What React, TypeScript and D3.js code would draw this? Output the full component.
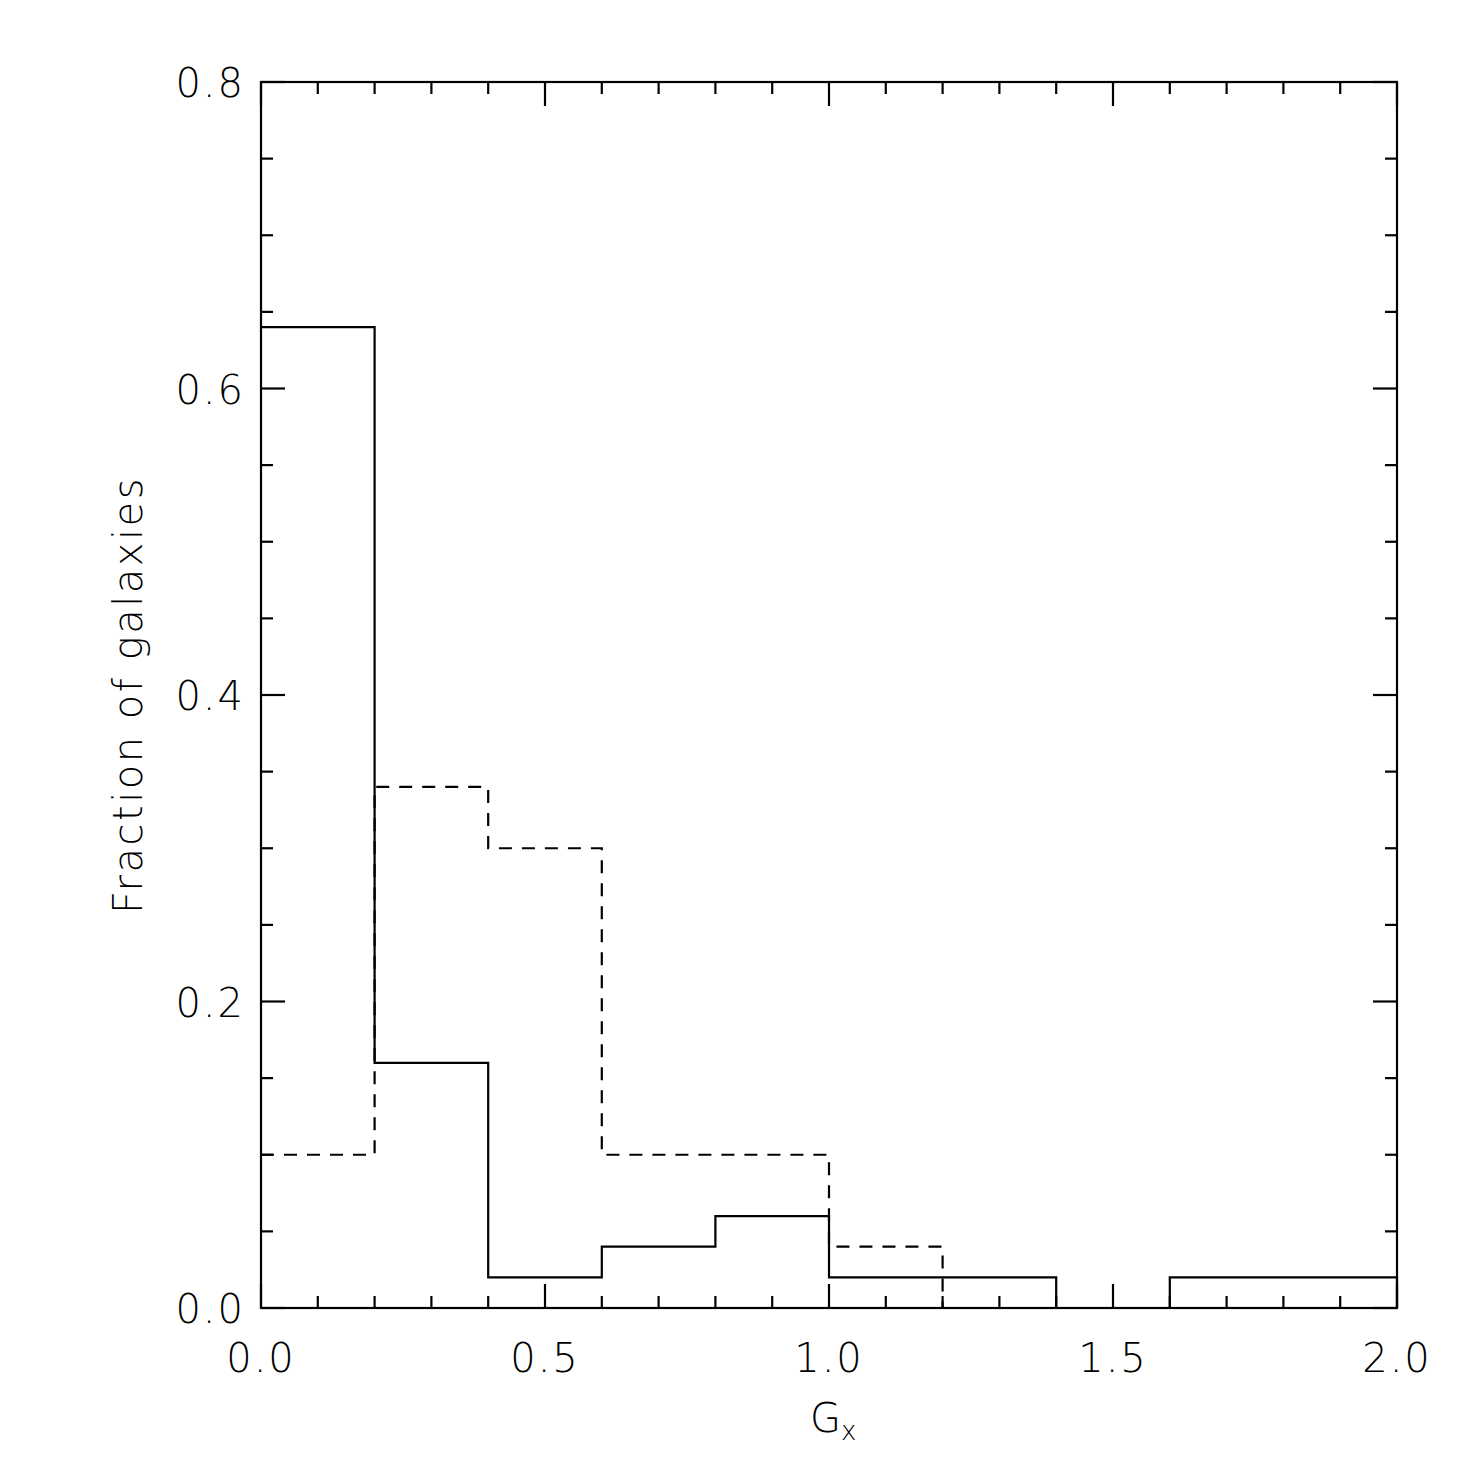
import React, { useEffect, useRef } from 'react';
import * as d3 from 'd3';

// bin edges (G_x) and fractions per bin
const binEdges = [0.0, 0.2, 0.4, 0.6, 0.8, 1.0, 1.2, 1.4, 1.6, 1.8, 2.0];
const solidFractions = [0.64, 0.16, 0.02, 0.04, 0.06, 0.02, 0.02, 0.0, 0.02, 0.02];
const dashedFractions = [0.10, 0.34, 0.30, 0.10, 0.10, 0.04, 0.0, 0.0, 0.0, 0.0];

const xMajorTicks = [0.0, 0.5, 1.0, 1.5, 2.0];
const xMinorTicks = [0.1, 0.2, 0.3, 0.4, 0.6, 0.7, 0.8, 0.9, 1.1, 1.2, 1.3, 1.4, 1.6, 1.7, 1.8, 1.9];
const yMajorTicks = [0.0, 0.2, 0.4, 0.6, 0.8];
const yMinorTicks = [0.05, 0.1, 0.15, 0.25, 0.3, 0.35, 0.45, 0.5, 0.55, 0.65, 0.7, 0.75];

const App: React.FC = () => {
  const svgRef = useRef<SVGSVGElement>(null);

  useEffect(() => {
    if (!svgRef.current) return;
    const W = 1475;
    const H = 1475;
    const left = 261, right = 1397, top = 82, bottom = 1308;
    const font = "'DejaVu Sans', 'Liberation Sans', sans-serif";

    const svg = d3.select(svgRef.current);
    svg.selectAll('*').remove();
    svg.attr('width', W).attr('height', H);

    svg.append('rect').attr('width', W).attr('height', H).attr('fill', '#fff');

    const x = d3.scaleLinear().domain([0, 2]).range([left, right]);
    const y = d3.scaleLinear().domain([0, 0.8]).range([bottom, top]);

    // histograms as step lines
    const stepLine = d3.line<[number, number]>()
      .x(d => x(d[0]))
      .y(d => y(d[1]))
      .curve(d3.curveStepAfter);

    const toPoints = (vals: number[]): [number, number][] => {
      const pts: [number, number][] = vals.map((v, i) => [binEdges[i], v]);
      pts.push([binEdges[binEdges.length - 1], vals[vals.length - 1]]);
      pts.push([binEdges[binEdges.length - 1], 0]);
      return pts;
    };

    svg.append('path')
      .attr('d', stepLine(toPoints(dashedFractions)))
      .attr('fill', 'none')
      .attr('stroke', '#000')
      .attr('stroke-width', 2.2)
      .attr('stroke-dasharray', '13,10');

    svg.append('path')
      .attr('d', stepLine(toPoints(solidFractions)))
      .attr('fill', 'none')
      .attr('stroke', '#000')
      .attr('stroke-width', 2.2);

    // frame
    svg.append('rect')
      .attr('x', left).attr('y', top)
      .attr('width', right - left).attr('height', bottom - top)
      .attr('fill', 'none').attr('stroke', '#000').attr('stroke-width', 2.2);

    const tickG = svg.append('g').attr('stroke', '#000').attr('stroke-width', 2.2);
    const major = 24, minor = 12;

    const xTick = (v: number, len: number) => {
      tickG.append('line').attr('x1', x(v)).attr('x2', x(v)).attr('y1', bottom).attr('y2', bottom - len);
      tickG.append('line').attr('x1', x(v)).attr('x2', x(v)).attr('y1', top).attr('y2', top + len);
    };
    const yTick = (v: number, len: number) => {
      tickG.append('line').attr('x1', left).attr('x2', left + len).attr('y1', y(v)).attr('y2', y(v));
      tickG.append('line').attr('x1', right).attr('x2', right - len).attr('y1', y(v)).attr('y2', y(v));
    };
    xMajorTicks.forEach(v => xTick(v, major));
    xMinorTicks.forEach(v => xTick(v, minor));
    yMajorTicks.forEach(v => yTick(v, major));
    yMinorTicks.forEach(v => yTick(v, minor));

    // tick labels
    svg.append('g').selectAll('text')
      .data(xMajorTicks)
      .enter()
      .append('text')
      .attr('x', d => x(d))
      .attr('y', 1372)
      .attr('text-anchor', 'middle')
      .style('font-family', font)
      .style('font-size', '40px')
      .style('font-weight', 200)
      .style('letter-spacing', '2px')
      .text(d => d.toFixed(1));

    svg.append('g').selectAll('text')
      .data(yMajorTicks)
      .enter()
      .append('text')
      .attr('x', 245)
      .attr('y', d => y(d) + 15)
      .attr('text-anchor', 'end')
      .style('font-family', font)
      .style('font-size', '40px')
      .style('font-weight', 200)
      .style('letter-spacing', '2px')
      .text(d => d.toFixed(1));

    // axis titles
    const xt = svg.append('text')
      .attr('x', 810)
      .attr('y', 1432)
      .style('font-family', font)
      .style('font-size', '40px')
      .style('font-weight', 200);
    xt.append('tspan').text('G');
    xt.append('tspan').attr('dy', 8).style('font-size', '26px').text('x');

    svg.append('text')
      .attr('transform', `translate(142,${(top + bottom) / 2}) rotate(-90)`)
      .attr('text-anchor', 'middle')
      .style('font-family', font)
      .style('font-size', '40px')
      .style('font-weight', 200)
      .style('letter-spacing', '2.5px')
      .text('Fraction of galaxies');
  }, []);

  return (
    <svg ref={svgRef} style={{ position: 'absolute', left: 0, top: 0 }} />
  );
};

export default App;
